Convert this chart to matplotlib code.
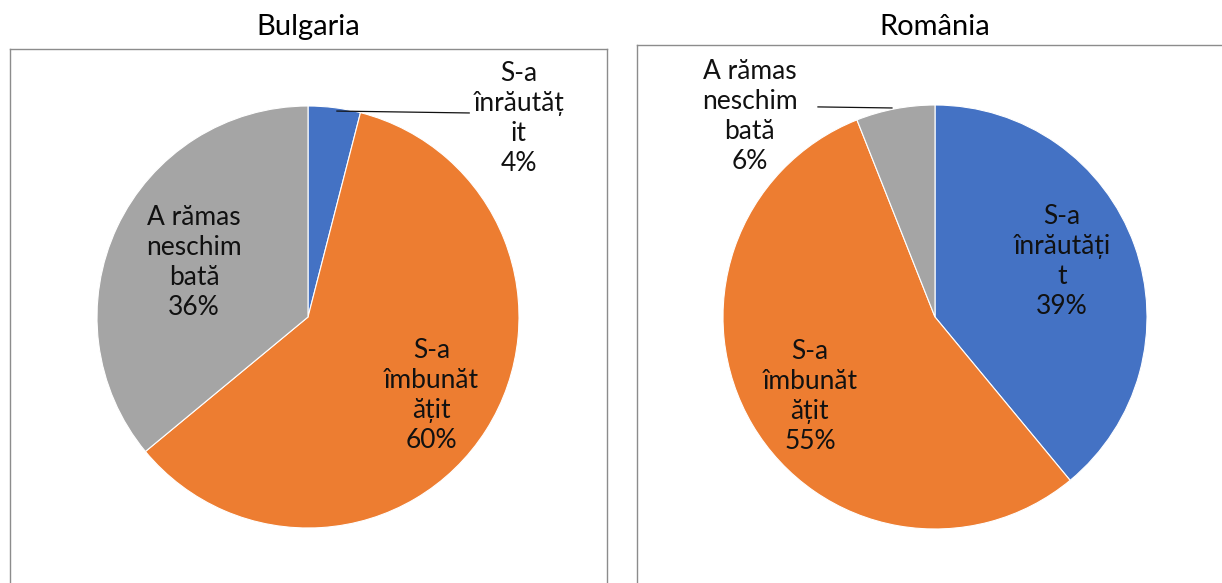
import matplotlib
matplotlib.use("Agg")
import matplotlib.pyplot as plt

# data
labels = ["S-a\nînrăutățit", "S-a\nîmbunătățit", "A rămas\nneschimbată"]
bulgaria = [4, 60, 36]
romania = [39, 55, 6]
colors = ["#4472C4", "#ED7D31", "#A5A5A5"]

# wrapped label text as drawn in the source
bg_text = ["S-a\nînrăutăț\nit", "S-a\nîmbunăt\nățit", "A rămas\nneschim\nbată"]
ro_text = ["S-a\nînrăutăți\nt", "S-a\nîmbunăt\nățit", "A rămas\nneschim\nbată"]

W, H = 1222, 583
plt.rcParams["font.family"] = ["Lato", "DejaVu Sans"]

fig = plt.figure(figsize=(W / 100, H / 100), dpi=100)


def px_axes(x0, y0, x1, y1):
    # pixel box (top-left origin) -> figure axes
    return fig.add_axes([x0 / W, 1 - y1 / H, (x1 - x0) / W, (y1 - y0) / H])


def frame(x0, y0, x1):
    ax = px_axes(x0, y0, x1, H + 40)
    ax.set_xticks([])
    ax.set_yticks([])
    ax.patch.set_alpha(0)
    for s in ax.spines.values():
        s.set_color("#8c8c8c")
        s.set_linewidth(1.0)
    ax.spines["bottom"].set_visible(False)
    return ax


def draw_pie(cx, cy, r, values, texts, pos, leader):
    ax = px_axes(cx - r, cy - r, cx + r, cy + r)
    ax.pie(values, colors=colors, startangle=90, counterclock=False,
           wedgeprops=dict(edgecolor="white", linewidth=0.8))
    ax.set_xlim(-1, 1)
    ax.set_ylim(-1, 1)
    ax.set_aspect("auto")
    ax.axis("off")
    for t, v, (x, y) in zip(texts, values, pos):
        ax.text(x, y, f"{t}\n{v}%", ha="center", va="center", fontsize=19,
                linespacing=1.25, color="#111111", clip_on=False)
    if leader is not None:
        (xa, ya), (xb, yb) = leader
        ax.plot([xa, xb], [ya, yb], color="#111111", lw=0.9, clip_on=False)


frame(10, 49, 607)
frame(637, 45, W + 5)

fig.text(308 / W, 1 - 27 / H, "Bulgaria", ha="center", va="center", fontsize=21)
fig.text(935 / W, 1 - 27 / H, "România", ha="center", va="center", fontsize=21)

draw_pie(308, 317, 211, bulgaria, bg_text,
         [(1.0, 0.94), (0.585, -0.373), (-0.54, 0.26)],
         ((0.137, 0.976), (0.764, 0.967)))
draw_pie(935, 317, 212, romania, ro_text,
         [(0.6, 0.26), (-0.59, -0.373), (-0.873, 0.948)],
         ((-0.203, 0.986), (-0.552, 0.991)))

fig.savefig("out.png", dpi=100)
